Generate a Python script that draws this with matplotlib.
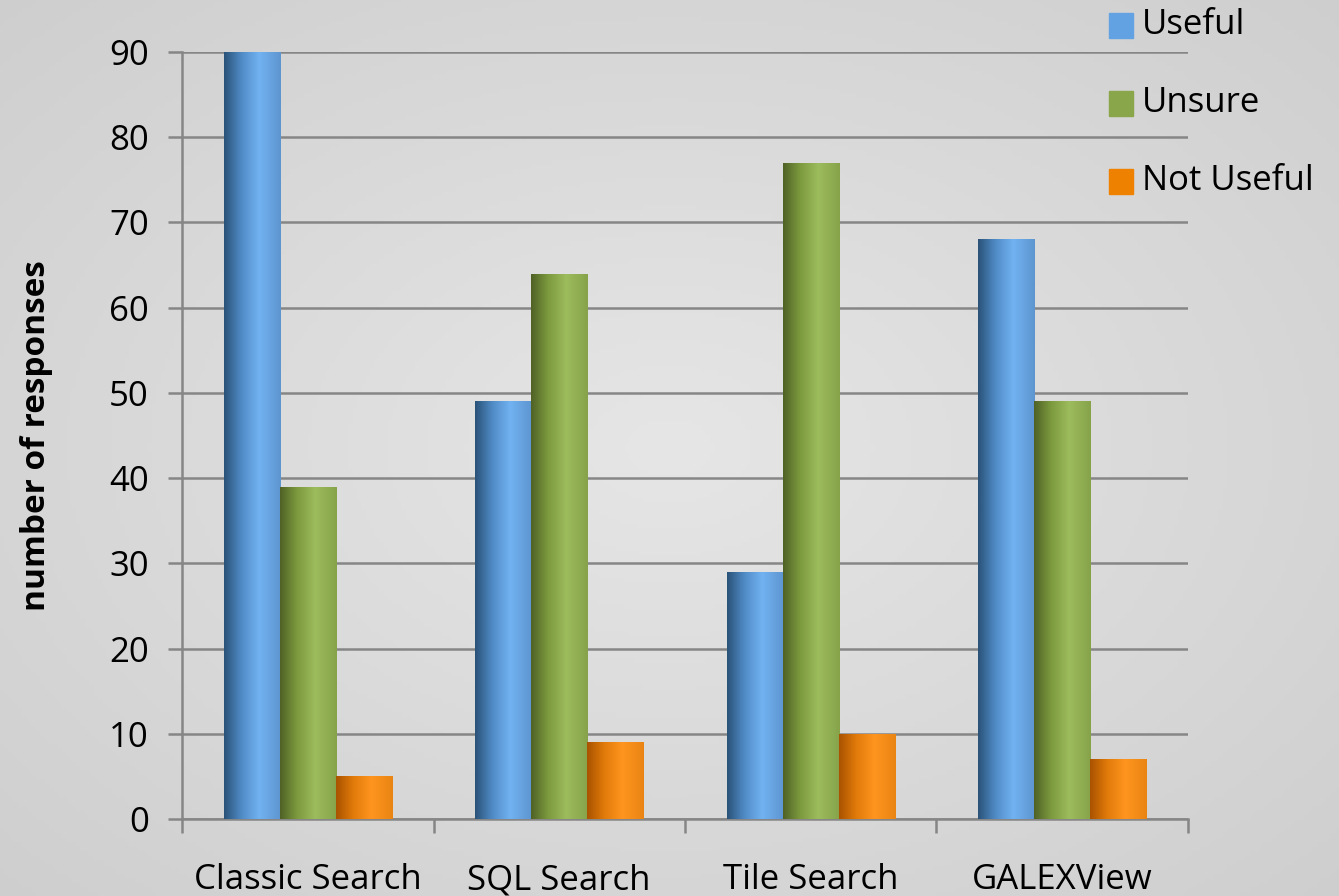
import numpy as np
import matplotlib.pyplot as plt
from matplotlib.colors import LinearSegmentedColormap

categories = ['Classic Search', 'SQL Search', 'Tile Search', 'GALEXView']
useful = [90, 49, 29, 68]
unsure = [39, 64, 77, 49]
not_useful = [5, 9, 10, 7]
series_names = ['Useful', 'Unsure', 'Not Useful']

# shading stops per series: dark edge, mid, highlight, right edge
shades = [
    ['#2a5278', '#4f8ac4', '#72b2f2', '#5d95cf'],
    ['#4f6126', '#7c9a3e', '#9dbc5c', '#86a34a'],
    ['#a95200', '#e07a0a', '#ff951f', '#e98413'],
]
legend_colors = ['#63a2e2', '#8aa64a', '#ee8200']

plt.rcParams['font.family'] = ['Open Sans', 'DejaVu Sans']

fig = plt.figure(figsize=(13.39, 8.96), dpi=100)

# light grey backdrop, brighter in the middle
bg = fig.add_axes([0, 0, 1, 1], zorder=-10)
yy, xx = np.mgrid[-1:1:200j, -1:1:300j]
rad = np.sqrt(xx ** 2 + yy ** 2)
bg.imshow(rad, cmap=LinearSegmentedColormap.from_list('bg', ['#e6e6e6', '#cdcdcd']),
          extent=[0, 1, 0, 1], aspect='auto', vmin=0, vmax=1.5)
bg.axis('off')

ax = fig.add_axes([0.136, 0.086, 0.751, 0.856])
ax.set_facecolor('none')

x = np.arange(len(categories))
w = 0.223
grad = np.linspace(0, 1, 256).reshape(1, -1)
for i, vals in enumerate([useful, unsure, not_useful]):
    bars = ax.bar(x + (i - 1) * w, vals, w, facecolor='none', edgecolor='none', zorder=3)
    cmap = LinearSegmentedColormap.from_list('s%d' % i, list(zip([0, 0.3, 0.62, 1], shades[i])))
    for b in bars:
        x0, y0 = b.get_x(), b.get_y()
        im = ax.imshow(grad, cmap=cmap, extent=[x0, x0 + b.get_width(), y0, y0 + b.get_height()],
                       aspect='auto', zorder=3, interpolation='bilinear')
        im.set_clip_path(b)

ax.set_xlim(-0.5, 3.5)
ax.set_ylim(0, 90)
ax.set_yticks(range(0, 91, 10))
ax.set_xticks(x)
ax.set_xticklabels(categories)
ax.set_xticks(np.arange(-0.5, 4, 1), minor=True)
ax.grid(axis='y', color='#868686', linewidth=1.8, zorder=1)
ax.set_axisbelow(True)

for s in ['top', 'right']:
    ax.spines[s].set_visible(False)
for s in ['left', 'bottom']:
    ax.spines[s].set_color('#868686')
    ax.spines[s].set_linewidth(1.8)

ax.tick_params(axis='y', length=10, width=1.8, color='#868686', pad=14, labelsize=25)
ax.tick_params(axis='x', which='major', length=0, pad=32, labelsize=25)
ax.tick_params(axis='x', which='minor', length=10, width=1.8, color='#868686')

ax.set_ylabel('number of responses', fontsize=24, fontweight='bold', labelpad=40)

for j, (name, col) in enumerate(zip(series_names, legend_colors)):
    yl = 0.972 - j * 0.087
    fig.patches.append(plt.Rectangle((0.828, yl - 0.014), 0.018, 0.027, color=col,
                                     transform=fig.transFigure, figure=fig))
    fig.text(0.853, yl, name, fontsize=25, va='center', ha='left')

fig.savefig('out.png', dpi=100)
